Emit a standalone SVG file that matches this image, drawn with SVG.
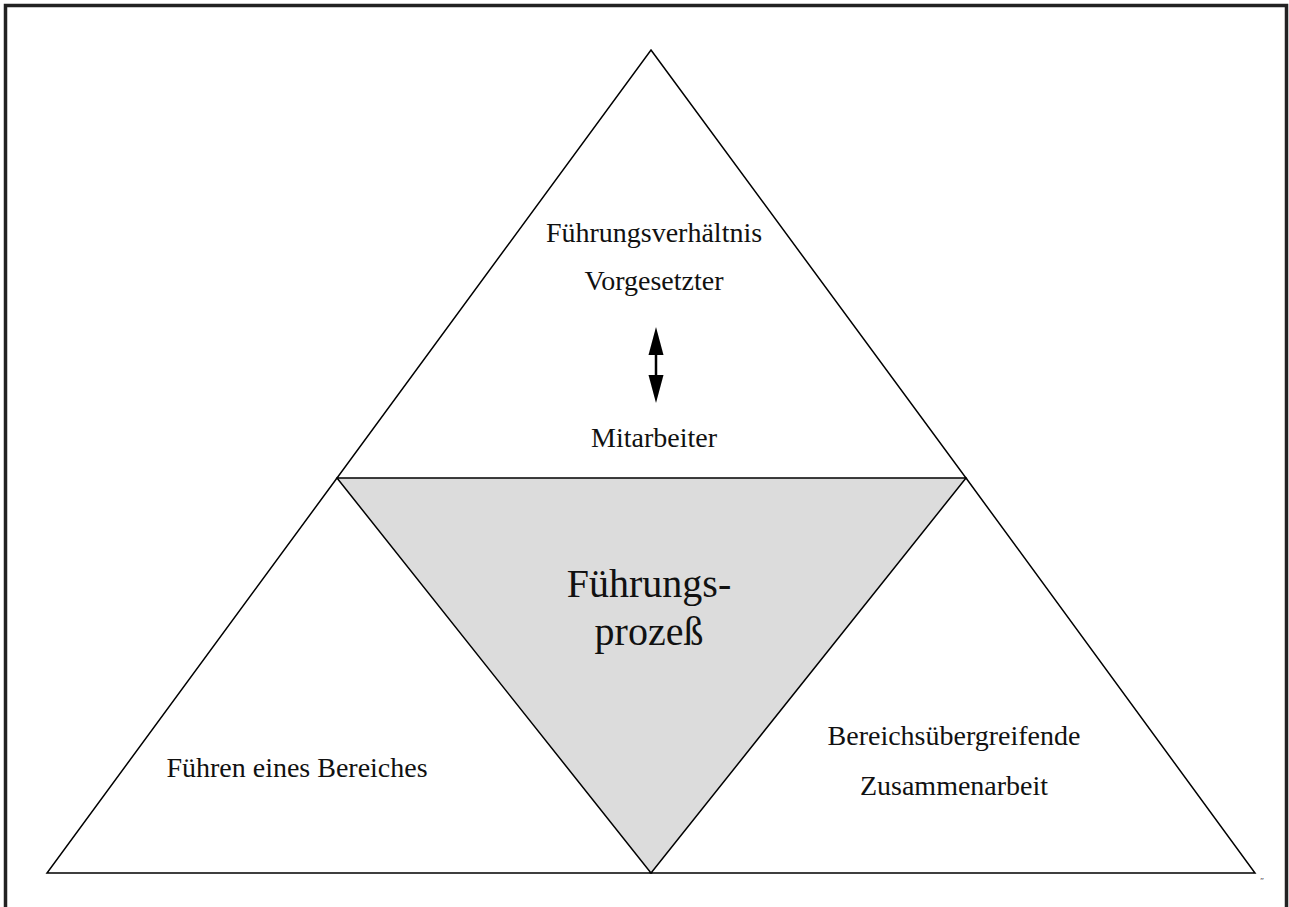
<svg xmlns="http://www.w3.org/2000/svg" width="1289" height="907" viewBox="0 0 1289 907">
  <style>
    .edge { fill: none; stroke: #000; stroke-width: 1.5; stroke-linejoin: miter; }
    .lbl { font-family: "Liberation Serif", "Times New Roman", serif; font-size: 28px; fill: #111; text-anchor: middle; }
    .big { font-size: 40px; }
  </style>
  <rect width="1289" height="907" fill="#fff"/>
  <!-- page frame, open at the bottom -->
  <path d="M5.5,907 V5.5 H1286.5 V907" fill="none" stroke="#222" stroke-width="3.5"/>

  <!-- centre: shaded inverted triangle -->
  <g id="prozess">
    <polygon points="337,478 966,478 651,873" fill="#dcdcdc" stroke="none"/>
    <text class="lbl big" x="649" y="597">Führungs-</text>
    <text class="lbl big" x="649" y="645">prozeß</text>
  </g>

  <!-- top: leadership relation -->
  <g id="fuehrungsverhaeltnis">
    <polygon class="edge" points="651,50 966,478 337,478"/>
    <text class="lbl" x="654" y="242">Führungsverhältnis</text>
    <text class="lbl" x="654" y="290">Vorgesetzter</text>
    <text class="lbl" x="654" y="447">Mitarbeiter</text>
  </g>

  <!-- bottom left -->
  <g id="bereich">
    <polygon class="edge" points="337,478 651,873 47,873"/>
    <text class="lbl" x="297" y="777">Führen eines Bereiches</text>
  </g>

  <!-- bottom right -->
  <g id="zusammenarbeit">
    <polygon class="edge" points="966,478 1255,873 651,873"/>
    <text class="lbl" x="954" y="745">Bereichsübergreifende</text>
    <text class="lbl" x="954" y="795">Zusammenarbeit</text>
  </g>

  <!-- double-headed arrow between superior and staff -->
  <g id="connectors">
    <line x1="656" y1="350" x2="656" y2="380" stroke="#000" stroke-width="2.5"/>
    <polygon points="656,327 663.5,355 648.5,355" fill="#000"/>
    <polygon points="656,403 663.5,375 648.5,375" fill="#000"/>
  </g>

  <text x="1262" y="884" font-family="Liberation Serif, serif" font-size="9" fill="#333" text-anchor="middle">″</text>
</svg>
